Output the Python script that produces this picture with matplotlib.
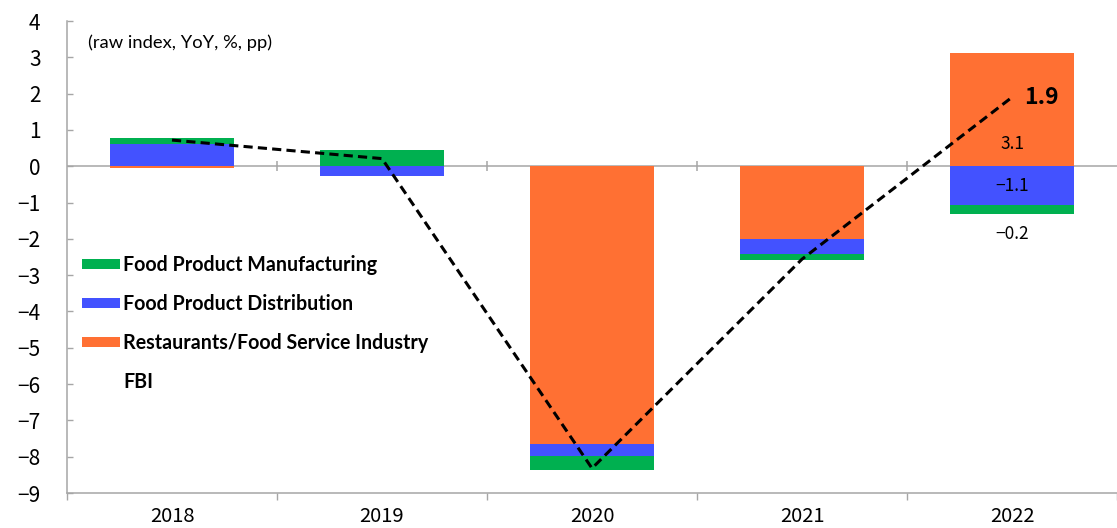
import matplotlib
matplotlib.use("Agg")
import matplotlib.pyplot as plt
from matplotlib.patches import Patch
from matplotlib.lines import Line2D
import numpy as np

years = ["2018", "2019", "2020", "2021", "2022"]
manufacturing = [0.18, 0.46, -0.38, -0.15, -0.24]
distribution = [0.60, -0.27, -0.33, -0.42, -1.08]
restaurants = [-0.06, 0.0, -7.65, -2.0, 3.13]
fbi = [0.72, 0.21, -8.32, -2.56, 1.9]
series_names = ["Food Product Manufacturing", "Food Product Distribution",
                "Restaurants/Food Service Industry"]
line_name = "FBI"
labels_2022 = {"restaurants": "3.1", "distribution": "\u22121.1", "manufacturing": "\u22120.2"}
fbi_label = "1.9"
unit_note = "(raw index, YoY, %, pp)"
yticks = list(range(-9, 5))

c_green = "#00B050"
c_blue = "#4352FF"
c_orange = "#FF7033"
gray = "#A6A6A6"
num_font = ["Noto Sans CJK JP", "DejaVu Sans"]

plt.rcParams["font.family"] = num_font
plt.rcParams["axes.unicode_minus"] = True

W, H = 1117, 528
fig = plt.figure(figsize=(W / 100, H / 100), dpi=100)
ax_left = 67 / W
ax_bottom = (H - 493) / H
ax_top = (H - 21) / H
ax = fig.add_axes([ax_left, ax_bottom, 1 - ax_left, ax_top - ax_bottom])

x = np.arange(len(years))
cat_w = 212.5
xmax = -0.5 + (W - 67) / cat_w
bar_w = 0.59

# stacking order: restaurants nearest zero, then distribution, then manufacturing
stack = [(restaurants, c_orange), (distribution, c_blue), (manufacturing, c_green)]
pos_base = np.zeros(len(years))
neg_base = np.zeros(len(years))
for vals, col in stack:
    v = np.array(vals, dtype=float)
    base = np.where(v >= 0, pos_base, neg_base)
    ax.bar(x, v, bar_w, bottom=base, color=col, edgecolor="none", zorder=2)
    pos_base = pos_base + np.where(v >= 0, v, 0)
    neg_base = neg_base + np.where(v < 0, v, 0)

# zero line with boundary tick marks
ax.axhline(0, color=gray, lw=1.1, zorder=1)
bounds = np.arange(len(years) - 1) + 0.5
ax.plot(bounds, np.zeros(len(bounds)), linestyle="none", marker="|",
        markersize=7, markeredgewidth=1.1, color=gray, zorder=1)

# FBI line
ax.plot(x, fbi, color="black", lw=2.2, linestyle=(0, (3, 1.7)), zorder=4)

# labels for 2022
i = len(years) - 1
ax.annotate(fbi_label, (x[i], fbi[i]), xytext=(9, 0), textcoords="offset points",
            ha="left", va="center", fontsize=16.5, fontweight="bold", family=num_font, zorder=5)
ax.annotate(labels_2022["restaurants"], (x[i], 0), xytext=(0, 16), textcoords="offset points",
            ha="center", va="center", fontsize=12.5, family=num_font, zorder=5)
ax.annotate(labels_2022["distribution"], (x[i], distribution[i] / 2), xytext=(0, 0),
            textcoords="offset points", ha="center", va="center", fontsize=12.5,
            family=num_font, zorder=5)
bottom_2022 = distribution[i] + manufacturing[i]
ax.annotate(labels_2022["manufacturing"], (x[i], bottom_2022), xytext=(0, -14),
            textcoords="offset points", ha="center", va="center", fontsize=12.5,
            family=num_font, zorder=5)

# axes styling
ax.set_xlim(-0.5, xmax)
ax.set_ylim(-9, 4)
ax.set_yticks(yticks)
ax.set_yticklabels([f"{t}".replace("-", "\u2212") for t in yticks])
ax.tick_params(axis="y", direction="in", length=4.5, width=1, color=gray,
               pad=19, labelsize=15)
ax.set_xticks(np.arange(len(years) + 1) - 0.5)
ax.set_xticklabels([])
ax.tick_params(axis="x", which="major", direction="out", length=5, width=1, color=gray)
ax.set_xticks(x, minor=True)
ax.set_xticklabels(years, minor=True)
ax.tick_params(axis="x", which="minor", length=0, pad=9, labelsize=14.5)
for s in ["top", "right"]:
    ax.spines[s].set_visible(False)
for s in ["left", "bottom"]:
    ax.spines[s].set_color(gray)
    ax.spines[s].set_linewidth(1.1)

# unit note
ax.text(88 / W, 1 - 43 / H, unit_note, transform=fig.transFigure, ha="left", va="center",
        fontsize=13.2, family=["Lato", "DejaVu Sans"])

# legend
handles = [Patch(facecolor=c_green, edgecolor="none"),
           Patch(facecolor=c_blue, edgecolor="none"),
           Patch(facecolor=c_orange, edgecolor="none"),
           Line2D([], [], color="none")]
leg = ax.legend(handles, series_names + [line_name], loc="upper left",
                bbox_to_anchor=(82 / W, 1 - 255 / H), bbox_transform=fig.transFigure,
                frameon=False, borderpad=0, borderaxespad=0,
                handlelength=1.92, handleheight=0.46, handletextpad=0.17,
                labelspacing=0.97,
                prop={"family": ["Lato", "DejaVu Sans"], "weight": "bold", "size": 14.1})

fig.savefig("out.png", dpi=100)
